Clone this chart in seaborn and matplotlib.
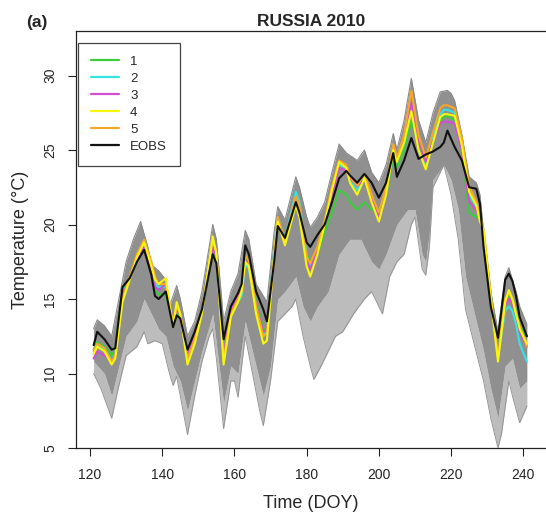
import matplotlib
matplotlib.use('Agg')
import matplotlib.pyplot as plt
import seaborn as sns
import numpy as np
import pandas as pd

# day-of-year grid shared by the observed and highlighted runs
doy = [121, 122, 124, 126, 127, 129, 131, 133, 135, 137, 138, 139, 141, 143, 144, 145,
       147, 149, 151, 154, 155, 157, 159, 161, 162, 163, 164, 166, 168, 169, 171, 172,
       174, 177, 178, 180, 181, 183, 185, 187, 189, 191, 192, 194, 196, 198, 200, 202,
       204, 205, 207, 209, 211, 213, 215, 217, 218, 219, 221, 223, 225, 227, 228, 229,
       231, 233, 235, 236, 237, 238, 239, 241]

eobs = [11.9, 12.8, 12.3, 11.6, 11.7, 15.8, 16.4, 17.5, 18.3, 16.6, 15.2, 15.0, 15.5, 13.1, 13.9, 13.7,
        11.6, 12.8, 14.3, 18.0, 17.4, 12.3, 14.5, 15.4, 16.0, 18.6, 18.0, 15.5, 14.3, 13.5, 17.5, 19.9,
        19.1, 21.5, 20.8, 18.8, 18.5, 19.3, 20.0, 21.5, 23.1, 23.6, 23.3, 22.8, 23.4, 22.8, 21.8, 22.8,
        24.8, 23.2, 24.3, 25.8, 24.4, 24.7, 24.9, 25.2, 25.5, 26.3, 25.2, 24.3, 22.5, 22.4, 21.4, 18.5,
        14.5, 12.4, 16.3, 16.7, 16.2, 15.2, 13.8, 12.5]

run1 = [11.6, 12.1, 11.8, 11.2, 11.6, 15.6, 16.4, 17.5, 18.5, 16.8, 15.6, 15.3, 15.3, 13.5, 14.2, 13.8,
        11.4, 12.6, 14.0, 18.3, 17.5, 11.6, 14.0, 15.0, 15.6, 17.8, 17.4, 14.8, 13.0, 13.0, 17.8, 19.8,
        19.2, 21.4, 20.7, 18.0, 17.5, 18.0, 19.5, 20.8, 22.3, 22.0, 21.5, 21.0, 21.5, 21.0, 21.0, 22.0,
        24.5, 23.8, 25.0, 27.0, 25.3, 24.4, 25.5, 27.0, 27.2, 27.3, 27.0, 25.0, 20.8, 20.5, 20.5, 19.5,
        15.3, 11.5, 14.8, 15.3, 15.0, 14.2, 13.2, 12.5]

run2 = [11.3, 11.9, 11.6, 10.9, 11.3, 15.3, 16.4, 17.7, 18.6, 17.0, 16.0, 15.8, 15.8, 13.4, 14.4, 14.0,
        11.1, 12.4, 14.1, 18.7, 17.9, 11.2, 14.0, 14.8, 15.2, 17.4, 17.0, 14.4, 12.6, 12.8, 18.2, 20.4,
        19.0, 22.2, 21.5, 17.9, 17.2, 18.3, 20.2, 22.2, 24.0, 23.8, 23.0, 22.3, 23.2, 21.7, 20.8, 22.4,
        25.2, 24.4, 25.8, 28.0, 25.8, 24.0, 25.8, 27.4, 27.7, 27.7, 27.5, 25.5, 22.0, 21.2, 20.4, 19.5,
        15.1, 11.2, 14.2, 14.5, 14.2, 13.3, 12.0, 10.8]

run3 = [11.0, 11.5, 11.2, 10.9, 11.2, 15.2, 16.4, 17.6, 18.5, 16.8, 15.8, 15.6, 16.0, 13.5, 14.3, 14.0,
        11.2, 12.5, 14.0, 18.5, 17.8, 11.3, 14.3, 15.2, 15.6, 17.6, 17.3, 14.6, 12.8, 12.9, 17.5, 20.0,
        18.8, 21.5, 20.8, 17.6, 17.0, 18.3, 20.0, 22.0, 23.8, 23.6, 23.1, 22.6, 23.0, 21.8, 20.5, 22.3,
        24.9, 24.2, 25.6, 28.2, 25.6, 24.2, 25.6, 26.8, 26.9, 26.9, 26.8, 25.0, 21.5, 21.0, 20.5, 19.4,
        15.0, 11.3, 14.6, 15.0, 14.7, 14.0, 12.8, 11.8]

run4 = [11.3, 11.8, 11.5, 10.6, 11.0, 14.8, 16.3, 17.8, 18.8, 17.2, 16.3, 16.0, 16.4, 13.1, 14.8, 14.0,
        10.6, 12.0, 14.0, 19.2, 18.0, 10.6, 13.8, 14.8, 15.5, 17.5, 17.2, 14.0, 12.0, 12.2, 17.8, 20.2,
        18.6, 21.3, 20.5, 17.2, 16.5, 18.0, 20.0, 22.3, 24.2, 23.8, 22.8, 22.0, 23.1, 21.5, 20.2, 22.0,
        25.0, 24.2, 25.5, 27.6, 25.0, 23.7, 25.5, 27.2, 27.4, 27.4, 27.3, 25.3, 22.2, 21.3, 20.2, 19.6,
        15.0, 10.8, 14.8, 15.6, 15.0, 14.0, 13.0, 12.0]

run5 = [11.5, 12.0, 11.7, 10.8, 11.2, 15.0, 16.5, 18.0, 19.0, 17.5, 16.5, 16.0, 16.0, 13.3, 14.5, 14.0,
        11.0, 12.3, 14.2, 19.0, 18.2, 11.0, 14.0, 15.0, 15.5, 17.9, 17.6, 14.5, 12.5, 12.7, 18.0, 20.5,
        18.9, 21.9, 21.3, 17.8, 17.4, 18.5, 20.3, 22.5, 24.3, 24.0, 23.2, 22.6, 23.4, 22.0, 20.8, 22.5,
        25.4, 24.5, 26.0, 29.0, 26.0, 24.5, 26.2, 27.8, 28.0, 28.0, 27.8, 25.8, 22.6, 21.5, 20.6, 19.7,
        15.3, 11.1, 15.0, 15.4, 15.0, 14.0, 13.2, 11.8]

# outline of the grey ensemble cloud (top, dense bottom, lowest member)
env_top_doy = [121, 122, 124, 126, 128, 130, 132, 134, 136, 137, 139, 141, 142, 144, 145, 147,
               149, 151, 154, 155, 157, 159, 161, 163, 164, 166, 169, 171, 172, 174, 177, 178,
               180, 181, 183, 185, 187, 189, 191, 194, 196, 198, 200, 202, 204, 205, 207, 209,
               211, 213, 215, 217, 219, 220, 221, 223, 225, 227, 228, 229, 231, 233, 235, 236,
               238, 239, 241]
env_top = [13.0, 13.6, 13.2, 12.5, 15.0, 17.5, 19.0, 20.2, 18.5, 17.3, 16.9, 16.3, 14.5, 15.9, 15.0, 12.5,
           13.5, 15.5, 20.0, 19.0, 13.5, 15.5, 16.7, 19.6, 19.0, 16.0, 14.8, 19.5, 21.2, 20.3, 23.2, 22.5,
           20.5, 19.8, 20.5, 21.5, 23.5, 25.4, 24.8, 24.3, 25.0, 23.5, 22.8, 24.0, 26.1, 25.0, 27.0, 29.8,
           27.0, 25.5, 27.5, 28.9, 29.0, 28.8, 28.3, 26.0, 23.2, 22.8, 22.0, 19.5, 15.5, 12.8, 16.5, 17.1,
           15.5, 14.5, 13.3]

env_mid_doy = [121, 124, 126, 128, 130, 133, 135, 137, 139, 141, 143, 145, 147, 149, 151, 154,
               157, 159, 161, 163, 165, 168, 170, 172, 174, 177, 179, 181, 183, 186, 189, 192,
               195, 198, 200, 202, 205, 208, 210, 212, 213, 214, 215, 218, 220, 222, 224, 227,
               229, 231, 233, 235, 237, 239, 241]
env_mid = [10.8, 10.0, 8.5, 10.5, 12.5, 13.5, 15.0, 14.0, 13.0, 12.5, 10.5, 9.5, 7.5, 9.5, 11.5, 14.0,
           8.0, 10.5, 10.0, 13.5, 11.5, 8.5, 10.5, 15.0, 15.5, 16.5, 14.5, 13.5, 14.5, 15.5, 18.0, 19.0,
           19.0, 17.5, 17.0, 18.0, 20.0, 21.0, 21.0, 18.0, 17.5, 19.5, 23.0, 24.0, 23.0, 21.0, 16.5, 13.5,
           11.5, 9.0, 7.0, 10.5, 11.0, 9.0, 9.5]

env_low_doy = [121, 123, 126, 128, 130, 133, 135, 136, 138, 140, 142, 143, 144, 145, 147, 149,
               151, 153, 154, 155, 157, 159, 160, 161, 162, 163, 165, 167, 168, 170, 172, 174,
               176, 177, 179, 181, 182, 184, 186, 188, 190, 193, 196, 198, 200, 201, 203, 205,
               207, 209, 210, 212, 213, 214, 215, 218, 220, 222, 224, 227, 229, 231, 233, 234,
               236, 237, 239, 241]
env_low = [10.0, 9.0, 7.0, 9.2, 11.2, 11.8, 12.8, 12.0, 12.2, 12.0, 10.0, 9.2, 9.8, 8.5, 5.9, 8.5,
           10.8, 12.5, 13.0, 11.0, 6.3, 9.5, 9.5, 8.4, 10.5, 12.5, 10.0, 7.5, 6.5, 9.5, 13.5, 14.0,
           14.5, 15.0, 12.5, 10.5, 9.6, 10.5, 11.5, 12.5, 12.8, 14.0, 15.0, 15.5, 14.5, 14.0, 16.5, 17.5,
           18.0, 20.0, 20.5, 17.0, 16.6, 18.5, 22.5, 24.0, 22.0, 19.0, 14.3, 11.4, 9.5, 7.0, 5.0, 6.0,
           9.5, 8.5, 6.7, 7.8]

series_names = ['1', '2', '3', '4', '5', 'EOBS']
series_values = [run1, run2, run3, run4, run5, eobs]
series_colors = {'1': '#3ccc3c', '2': '#35e3e3', '3': '#d24ed2',
                 '4': '#f7f70e', '5': '#f4a72c', 'EOBS': '#111111'}
draw_order = ['1', '2', '3', '5', '4', 'EOBS']

df = pd.DataFrame({
    'doy': doy * len(series_names),
    'temp': sum(series_values, []),
    'series': np.repeat(series_names, len(doy)),
})

sns.set_style('white')
plt.rcParams['font.family'] = ['Liberation Sans', 'DejaVu Sans']

fig = plt.figure(figsize=(5.46, 5.18), dpi=100)
ax = fig.add_axes([76 / 546, 1 - 448 / 518, 470 / 546, (448 - 31.4) / 518])

# grey ensemble cloud
x_grid = np.arange(121, 242)
top_i = np.interp(x_grid, env_top_doy, env_top)
mid_i = np.interp(x_grid, env_mid_doy, env_mid)
low_i = np.interp(x_grid, env_low_doy, env_low)
ax.fill_between(x_grid, np.minimum(low_i, mid_i), mid_i, color='#bcbcbc', lw=0, zorder=1)
ax.fill_between(x_grid, mid_i, top_i, color='#909090', lw=0, zorder=1)
ax.plot(env_low_doy, env_low, color='#959595', lw=0.7, zorder=1)
ax.plot(env_top_doy, env_top, color='#8a8a8a', lw=0.8, zorder=1)

for name in draw_order:
    sns.lineplot(data=df[df['series'] == name], x='doy', y='temp', color=series_colors[name],
                 lw=1.5, ax=ax, estimator=None, sort=False, zorder=3)

handles = [plt.Line2D([], [], color=series_colors[n], lw=1.6) for n in series_names]
leg = ax.legend(handles, series_names, loc='upper left', bbox_to_anchor=(0.004, 0.973),
                borderaxespad=0, fancybox=False, framealpha=1, edgecolor='#444444',
                fontsize=9.5, handlelength=2.1, handletextpad=0.85, labelspacing=0.36,
                borderpad=1.0)
leg.get_frame().set_linewidth(0.9)

ax.set_xlim(116.12, 246.3)
ax.set_ylim(5.0, 32.96)
ax.set_xticks([120, 140, 160, 180, 200, 220, 240])
ax.set_yticks([5, 10, 15, 20, 25, 30])
ax.tick_params(axis='both', direction='out', length=5.5, width=0.8, labelsize=10,
               color='#222222', bottom=True, left=True)
ax.tick_params(axis='x', pad=9)
ax.tick_params(axis='y', pad=8)
for lab in ax.get_yticklabels():
    lab.set_rotation(90)
    lab.set_va('center')

for side in ['left', 'bottom', 'top']:
    ax.spines[side].set_color('#222222')
    ax.spines[side].set_linewidth(0.9)
ax.spines['right'].set_visible(False)

ax.set_xlabel('Time (DOY)', fontsize=13, labelpad=9)
ax.set_ylabel('Temperature (\u00b0C)', fontsize=13, labelpad=10)
ax.set_title('RUSSIA 2010', fontsize=12.5, fontweight='bold', pad=4)
fig.text(26 / 546, 1 - 22 / 518, '(a)', fontsize=12.5, fontweight='bold', va='center', ha='left')

fig.savefig('out.png', dpi=100)
